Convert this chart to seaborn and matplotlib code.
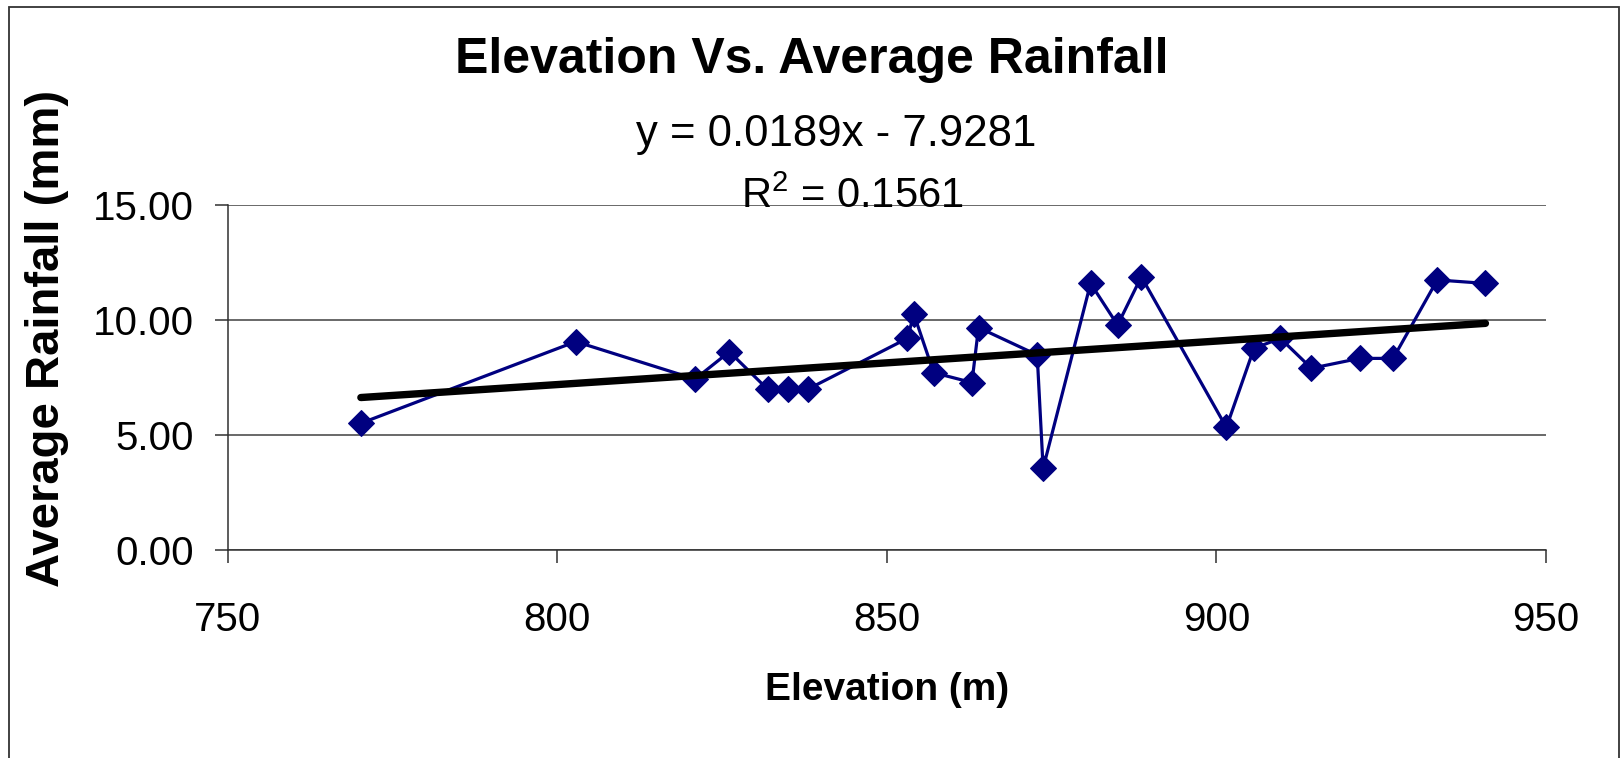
import numpy as np
import pandas as pd
import matplotlib
matplotlib.use("Agg")
import matplotlib.pyplot as plt
import seaborn as sns
from matplotlib.patches import Rectangle

# Data (elevation in m, average rainfall in mm)
elevation = [770.2, 802.8, 820.9, 826.1, 831.9, 835.0, 838.0, 853.1, 854.1, 857.1,
             862.9, 863.9, 872.8, 873.7, 880.9, 885.0, 888.6, 901.5, 905.7, 909.7,
             914.4, 921.7, 926.8, 933.5, 940.8]
rainfall = [5.51, 9.06, 7.43, 8.62, 6.99, 6.99, 6.99, 9.20, 10.25, 7.71,
            7.28, 9.67, 8.48, 3.55, 11.59, 9.78, 11.88, 5.33, 8.77, 9.20,
            7.90, 8.33, 8.33, 11.74, 11.59]

# Linear trendline shown on the chart
slope = 0.0189
intercept = -7.9281
r_squared = 0.1561

x_ticks = [750, 800, 850, 900, 950]
y_ticks = [0, 5, 10, 15]

df = pd.DataFrame({"Elevation": elevation, "Rainfall": rainfall})
trend_x = [min(elevation), max(elevation)]
trend = pd.DataFrame({"Elevation": trend_x,
                      "Rainfall": [slope * x + intercept for x in trend_x]})

sns.set_theme(style="white")
plt.rcParams["font.family"] = ["Liberation Sans", "DejaVu Sans"]
plt.rcParams["mathtext.default"] = "regular"
plt.rcParams["text.color"] = "black"
plt.rcParams["axes.labelcolor"] = "black"

fig = plt.figure(figsize=(16.23, 7.58), dpi=100)
ax = fig.add_axes([0.1403, 0.2744, 0.8123, 0.4552])

sns.lineplot(data=df, x="Elevation", y="Rainfall", ax=ax, sort=False,
             color="#000080", linewidth=2.3, marker="D", markersize=13,
             markeredgecolor="#000080", zorder=3)
sns.lineplot(data=trend, x="Elevation", y="Rainfall", ax=ax, sort=False,
             color="black", linewidth=5.3, solid_capstyle="round", zorder=4)

ax.set_xlim(750, 950)
ax.set_ylim(0, 15)
ax.set_xticks(x_ticks)
ax.set_yticks(y_ticks)
ax.set_yticklabels([f"{v:.2f}" for v in y_ticks])

ax.grid(axis="y", color="#404040", linewidth=1.1)
ax.grid(axis="x", visible=False)
for side in ["top", "right"]:
    ax.spines[side].set_visible(False)
for side in ["left", "bottom"]:
    ax.spines[side].set_color("#303030")
    ax.spines[side].set_linewidth(1.1)

ax.tick_params(axis="both", direction="out", length=9.5, width=1.1,
               color="#303030", labelsize=29, labelcolor="black")
ax.tick_params(axis="y", left=True, pad=15)
ax.tick_params(axis="x", bottom=True, pad=27)

ax.set_xlabel("Elevation (m)", fontsize=28, fontweight="bold", labelpad=24)
ax.set_ylabel("")
fig.text(0.029, 0.553, "Average Rainfall (mm)", rotation=90, fontsize=34,
         fontweight="bold", ha="center", va="center")

fig.text(0.5, 0.921, "Elevation Vs. Average Rainfall", fontsize=36,
         fontweight="bold", ha="center", va="center")
fig.text(0.515, 0.8226, f"y = {slope}x - {abs(intercept)}", fontsize=31.5,
         ha="center", va="center")
fig.text(0.525, 0.741, r"R$^{2}$ = " + f"{r_squared}", fontsize=30,
         ha="center", va="center")

# chart area border
fig.patches.append(Rectangle((8.5 / 1623, -0.05), (1619 - 8.5) / 1623,
                             1 - 6.5 / 758 + 0.05, transform=fig.transFigure,
                             fill=False, edgecolor="#333333", linewidth=1.3))

fig.savefig("out.png", dpi=100)
